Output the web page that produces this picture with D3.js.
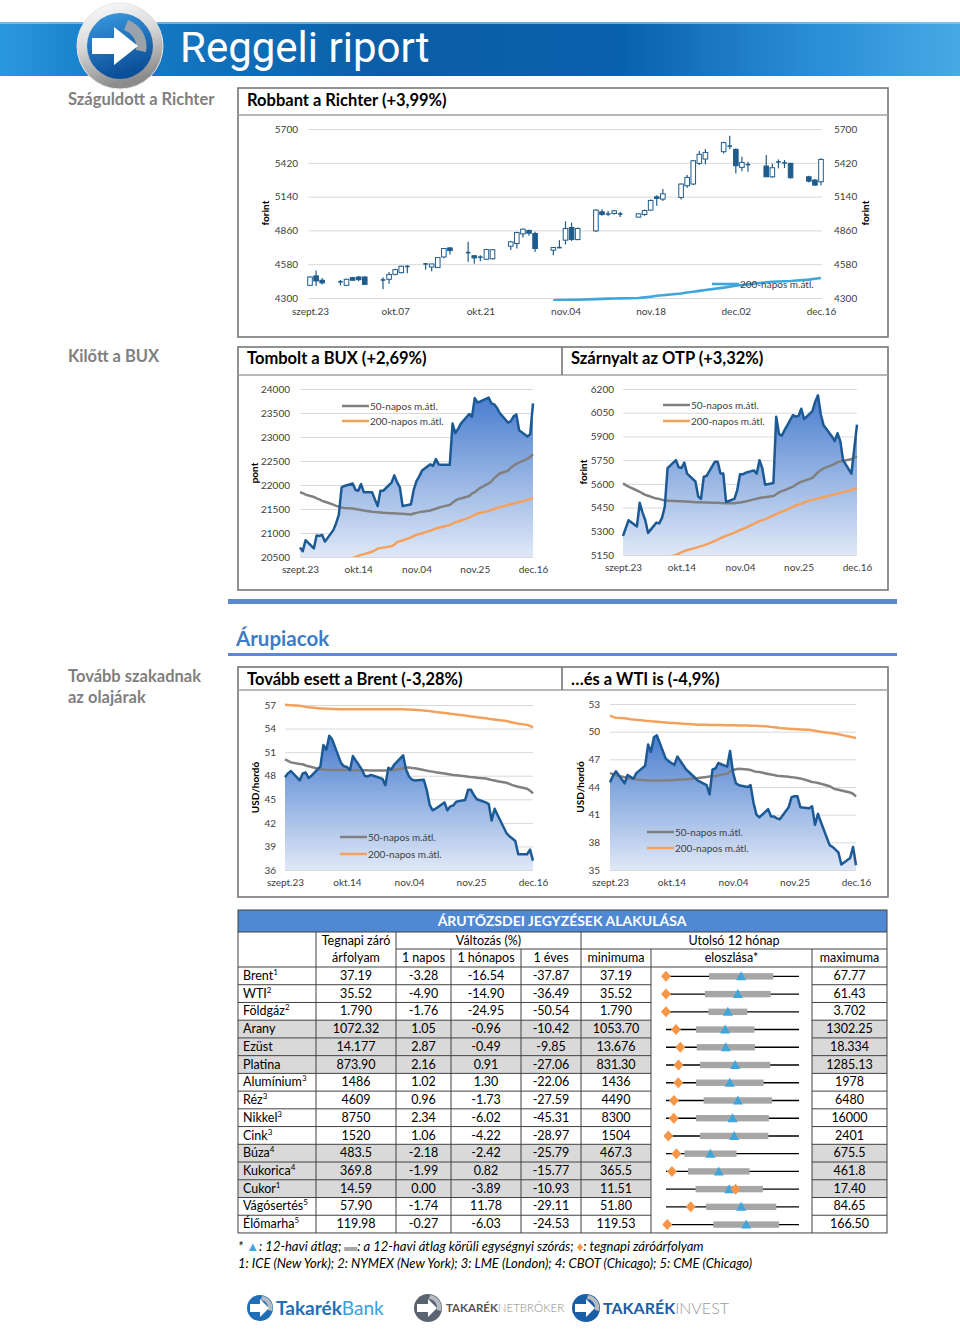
<!DOCTYPE html>
<html><head><meta charset="utf-8">
<script src="https://cdn.jsdelivr.net/npm/d3@7"></script>
<style>
body{margin:0;background:#fff;}
svg text{font-family:Lato,'Open Sans',sans-serif;}
</style></head><body>
<svg id="c" width="960" height="1329"></svg>
<script>
// ---------------- DATA ----------------
const tradingDays = ["2015-09-23","2015-09-24","2015-09-25","2015-09-28","2015-09-29","2015-09-30",
"2015-10-01","2015-10-02","2015-10-05","2015-10-06","2015-10-07","2015-10-08","2015-10-09","2015-10-12","2015-10-13","2015-10-14","2015-10-15","2015-10-16","2015-10-19","2015-10-20","2015-10-21","2015-10-22","2015-10-23","2015-10-26","2015-10-27","2015-10-28","2015-10-29","2015-10-30",
"2015-11-02","2015-11-03","2015-11-04","2015-11-05","2015-11-06","2015-11-09","2015-11-10","2015-11-11","2015-11-12","2015-11-13","2015-11-16","2015-11-17","2015-11-18","2015-11-19","2015-11-20","2015-11-23","2015-11-24","2015-11-25","2015-11-26","2015-11-27","2015-11-30",
"2015-12-01","2015-12-02","2015-12-03","2015-12-04","2015-12-07","2015-12-08","2015-12-09","2015-12-10","2015-12-11","2015-12-14","2015-12-15","2015-12-16"];

// Richter OHLC
const richterOpen  = [4405,4483,4447,4433,4405,4469,4474,4474,4447,4455,4496,4510,4560,4585,4557,4552,4640,4715,4680,4650,4636,4621,4625,4729,4751,4831,4859,4834,4696,4715,4779,4884,4784,4856,5014,4995,5000,4997,4970,4992,5028,5138,5119,5133,5230,5244,5415,5451,5512,5557,5531,5382,5404,5393,5304,5426,5418,5415,5304,5277,5263];
const richterHigh  = [4480,4527,4466,4449,4460,4475,4483,4480,4472,4516,4543,4568,4571,4588,4582,4640,4715,4723,4765,4655,4655,4707,4706,4773,4848,4875,4867,4848,4723,4779,4936,4925,4884,5036,5036,5022,5028,5014,5000,5033,5117,5152,5202,5249,5318,5443,5517,5534,5595,5645,5540,5470,5429,5484,5415,5448,5443,5421,5313,5285,5457];
const richterLow   = [4400,4400,4411,4405,4402,4444,4438,4410,4372,4419,4488,4505,4505,4535,4521,4549,4630,4660,4600,4583,4605,4618,4620,4698,4710,4801,4815,4682,4654,4713,4743,4773,4779,4847,4981,4978,4992,4972,4967,4981,5022,5064,5103,5116,5213,5235,5401,5407,5498,5534,5332,5351,5346,5304,5296,5374,5376,5290,5257,5230,5235];
const richterClose = [4474,4441,4425,4436,4455,4447,4452,4413,4452,4494,4535,4563,4563,4580,4582,4635,4710,4693,4672,4632,4641,4701,4700,4765,4842,4870,4837,4710,4718,4720,4876,4784,4876,5028,4992,4998,5022,4995,4997,5025,5108,5125,5163,5244,5299,5437,5490,5506,5587,5560,5396,5423,5407,5304,5379,5429,5421,5296,5268,5235,5448];
const richterMA200 = [null,null,null,null,null,null,null,null,null,null,null,null,null,null,null,null,null,null,null,null,null,null,null,null,null,null,null,null,
4280,4282,4283,4285,4286,4291,4293,4295,4296,4297,4300,4305,4311,4318,4323,4337,4345,4352,4359,4366,4386,4394,4401,4407,4413,4430,4434,4437,4439,4441,4452,4459,4466];
const richterYTicks = [4300,4580,4860,5140,5420,5700];
const richterXTicks = ["2015-09-23","2015-10-07","2015-10-21","2015-11-04","2015-11-18","2015-12-02","2015-12-16"];
const richterXLabels = ["szept.23","okt.07","okt.21","nov.04","nov.18","dec.02","dec.16"];

// BUX
const buxClose = [20700,20620,20850,20680,20950,20940,20960,20820,21060,21200,21380,21950,21980,22030,21900,21880,22020,21850,21850,21700,21560,21880,21880,22050,22200,22060,21950,21560,21600,21900,22080,22180,22300,22430,22400,22540,22430,22420,22420,23280,23080,23170,23280,23480,23420,23810,23720,23740,23820,23700,23680,23610,23500,23300,23330,23430,23470,23140,23010,23060,23700];
const buxMA50 = [21850,21830,21800,21750,21720,21700,21670,21650,21590,21565,21550,21530,21520,21510,21500,21490,21480,21470,21445,21440,21430,21425,21420,21412,21410,21406,21403,21400,21385,21405,21420,21435,21445,21470,21490,21505,21525,21545,21585,21630,21675,21705,21720,21770,21820,21850,21895,21940,22035,22070,22140,22195,22240,22300,22360,22400,22440,22470,22545,22590,22640];
const buxMA200 = [null,null,null,null,null,null,null,null,null,null,null,null,20440,20480,20500,20525,20545,20560,20610,20640,20675,20685,20695,20725,20755,20810,20830,20845,20910,20940,20965,20980,20995,21050,21070,21095,21110,21125,21170,21195,21220,21240,21260,21320,21345,21380,21405,21415,21460,21480,21500,21520,21535,21585,21600,21615,21630,21645,21690,21710,21730];
const buxYTicks = [20500,21000,21500,22000,22500,23000,23500,24000];

// OTP
const otpClose = [5270,5320,5370,5330,5480,5420,5370,5290,5355,5350,5385,5455,5700,5750,5705,5700,5735,5665,5615,5520,5505,5645,5650,5740,5740,5665,5665,5485,5505,5560,5660,5660,5670,5685,5665,5750,5700,5595,5605,6025,5915,5905,5940,6035,6025,6030,6075,6010,6060,6120,6160,6040,5970,5900,5870,5920,5870,5750,5665,5820,5975];
const otpMA50 = [5603,5592,5582,5558,5550,5540,5530,5525,5507,5505,5499,5494,5493,5491,5490,5490,5489,5488,5484,5483,5483,5482,5482,5480,5480,5479,5478,5477,5477,5480,5482,5485,5489,5502,5506,5510,5514,5516,5523,5534,5546,5554,5560,5582,5594,5605,5614,5619,5638,5657,5673,5686,5698,5719,5727,5737,5742,5746,5756,5766,5776];
const otpMA200 = [null,null,null,null,null,null,null,null,null,null,null,null,5136,5150,5158,5166,5175,5181,5195,5200,5206,5211,5217,5239,5247,5257,5264,5271,5292,5300,5308,5315,5322,5347,5356,5364,5370,5375,5401,5409,5417,5424,5431,5454,5463,5469,5475,5482,5499,5503,5508,5512,5516,5529,5534,5540,5543,5548,5563,5567,5571];
const otpYTicks = [5150,5300,5450,5600,5750,5900,6050,6200];

// Brent
const brentClose = [47.8,48.3,48.6,47.4,48.3,48.4,47.7,48.0,49.2,51.9,51.3,53.1,52.6,49.6,49.2,49.1,48.7,50.5,48.8,48.0,47.9,48.1,48.0,47.6,46.8,49.0,48.8,49.4,50.6,48.8,47.9,47.5,47.4,47.5,46.2,44.3,43.6,43.8,44.6,43.6,44.1,44.2,44.7,44.9,46.2,46.2,45.5,45.0,44.6,44.4,42.3,43.8,43.0,40.7,40.3,40.0,39.7,38.0,38.0,38.6,37.19];
const brentMA50 = [50.08,49.9,49.7,49.5,49.45,49.3,49.2,49.1,48.8,48.78,48.75,48.73,48.72,48.72,48.72,48.72,48.72,48.71,48.71,48.7,48.68,48.67,48.66,48.65,48.66,48.68,48.7,48.74,48.95,49.05,49.03,48.99,48.96,48.72,48.65,48.58,48.52,48.45,48.28,48.22,48.16,48.1,48.06,47.93,47.88,47.82,47.79,47.75,47.65,47.55,47.45,47.38,47.3,47.1,46.95,46.8,46.7,46.6,46.35,46.1,45.76];
const brentMA200 = [57.04,57.0,56.97,56.9,56.83,56.76,56.71,56.68,56.57,56.55,56.53,56.51,56.5,56.47,56.46,56.45,56.45,56.45,56.45,56.45,56.45,56.45,56.45,56.45,56.45,56.45,56.45,56.45,56.45,56.44,56.42,56.4,56.38,56.31,56.26,56.22,56.18,56.12,55.98,55.94,55.89,55.85,55.8,55.66,55.61,55.55,55.5,55.44,55.3,55.25,55.2,55.15,55.1,54.95,54.87,54.78,54.7,54.6,54.47,54.35,54.16];
const brentYTicks = [36,39,42,45,48,51,54,57];

// WTI
const wtiClose = [44.5,45.2,45.7,44.4,45.3,45.1,44.9,45.5,46.3,48.6,47.8,49.4,49.6,47.1,46.8,46.6,46.4,47.3,45.9,45.6,45.3,45.0,44.7,44.2,43.2,45.9,46.0,46.6,46.2,47.9,45.6,44.4,44.2,44.0,44.2,42.3,41.0,40.7,41.6,40.8,40.8,40.6,40.5,41.8,42.9,43.0,43.0,41.8,41.7,41.9,39.9,41.1,40.2,37.7,37.5,37.2,36.9,35.6,36.3,37.5,35.52];
const wtiMA50 = [45.5,45.4,45.28,45.05,44.97,44.92,44.88,44.82,44.74,44.72,44.71,44.71,44.71,44.71,44.72,44.74,44.76,44.78,44.85,44.88,44.9,44.94,44.97,45.09,45.13,45.17,45.2,45.28,45.45,45.7,45.85,45.92,45.97,45.9,45.85,45.72,45.65,45.62,45.42,45.35,45.3,45.23,45.18,45.1,45.07,45.02,44.98,44.93,44.65,44.55,44.5,44.43,44.35,44.08,43.9,43.75,43.7,43.62,43.4,43.25,42.97];
const wtiMA200 = [51.73,51.6,51.52,51.45,51.4,51.35,51.31,51.28,51.19,51.17,51.13,51.1,51.07,50.99,50.97,50.94,50.93,50.91,50.84,50.82,50.8,50.78,50.76,50.74,50.73,50.72,50.72,50.71,50.7,50.7,50.69,50.69,50.68,50.66,50.65,50.65,50.63,50.62,50.57,50.52,50.48,50.44,50.4,50.32,50.3,50.28,50.26,50.24,50.2,50.15,50.1,50.04,49.98,49.86,49.82,49.78,49.72,49.65,49.45,49.38,49.31];
const wtiYTicks = [35,38,41,44,47,50,53];

const lineXTicks = ["2015-09-23","2015-10-14","2015-11-04","2015-11-25","2015-12-16"];
const lineXLabels = ["szept.23","okt.14","nov.04","nov.25","dec.16"];

// Commodity table
const commodities = ["Brent","WTI","Földgáz","Arany","Ezüst","Platina","Alumínium","Réz","Nikkel","Cink","Búza","Kukorica","Cukor","Vágósertés","Élőmarha"];
const exchangeNote = ["1","2","2","","","","3","3","3","3","4","4","1","5","5"];
const lastClose = ["37.19","35.52","1.790","1072.32","14.177","873.90","1486","4609","8750","1520","483.5","369.8","14.59","57.90","119.98"];
const chg1d = [-3.28,-4.90,-1.76,1.05,2.87,2.16,1.02,0.96,2.34,1.06,-2.18,-1.99,0.00,-1.74,-0.27];
const chg1m = [-16.54,-14.90,-24.95,-0.96,-0.49,0.91,1.30,-1.73,-6.02,-4.22,-2.42,0.82,-3.89,11.78,-6.03];
const chg1y = [-37.87,-36.49,-50.54,-10.42,-9.85,-27.06,-22.06,-27.59,-45.31,-28.97,-25.79,-15.77,-10.93,-29.11,-24.53];
const min12 = ["37.19","35.52","1.790","1053.70","13.676","831.30","1436","4490","8300","1504","467.3","365.5","11.51","51.80","119.53"];
const max12 = ["67.77","61.43","3.702","1302.25","18.334","1285.13","1978","6480","16000","2401","675.5","461.8","17.40","84.65","166.50"];
const mean12 = [54.47,49.51,2.679,1164.3,15.77,1067.3,1696,5565,12150,1964,536.9,403.7,14.31,70.37,147.85];
const std12  = [7.38,6.41,0.279,54.6,1.018,119.7,137.5,512,2109,230,40.8,22.3,1.49,8.67,11.62];

// ---------------- DRAWING ----------------
const svg = d3.select('#c');
const parseD = d3.timeParse('%Y-%m-%d');
const dts = tradingDays.map(parseD);
const defs = svg.append('defs');
const plainNum = d => String(d);

function grad(id, stops, x2, y2){
  const g = defs.append('linearGradient').attr('id',id).attr('x1',0).attr('y1',0).attr('x2',x2).attr('y2',y2);
  stops.forEach(s=>g.append('stop').attr('offset',s[0]).attr('stop-color',s[1]));
}
grad('hdr',[[0,'#2a98de'],[0.1,'#167fca'],[0.4,'#0a5da6'],[0.65,'#0b62ac'],[0.85,'#2a8ed6'],[1,'#48a9e6']],1,0);
grad('area',[[0,'#4a7ecf'],[1,'#dfe8f7']],0,1);
grad('silver',[[0,'#ffffff'],[0.5,'#d8d8d8'],[1,'#8c8c8c']],0.3,1);
grad('logoBlue',[[0,'#3a9be2'],[1,'#0b4f98']],0.3,1);

function txt(x,y,s,o={}){
  const t = svg.append('text').attr('x',x).attr('y',y).text(s)
    .attr('font-size',o.size||12).attr('fill',o.fill||'#000');
  if(o.bold) t.attr('font-weight','bold');
  if(o.anchor) t.attr('text-anchor',o.anchor);
  if(o.italic) t.attr('font-style','italic');
  if(o.rot) t.attr('transform',`rotate(${o.rot},${x},${y})`);
  return t;
}

// Header band
svg.append('rect').attr('x',0).attr('y',22).attr('width',960).attr('height',54).attr('fill','url(#hdr)');
svg.append('rect').attr('x',0).attr('y',22).attr('width',960).attr('height',2).attr('fill','#8ccdf2').attr('opacity',0.7);
// logo
svg.append('circle').attr('cx',120).attr('cy',46).attr('r',43).attr('fill','url(#silver)').attr('stroke','#e6e6e6');
svg.append('circle').attr('cx',120).attr('cy',46).attr('r',33).attr('fill','url(#logoBlue)');
svg.append('path').attr('d','M128,20 A28,28 0 0 1 146,52 L136,50 A18,18 0 0 0 124,30 Z').attr('fill','#9aa3ab');
svg.append('path').attr('d','M92,38 L114,38 L114,27 L138,46 L114,65 L114,54 L92,54 Z').attr('fill','#ffffff');
txt(180,62,'Reggeli riport',{size:42,fill:'#ffffff'}).style('font-family','Roboto, sans-serif').attr('font-weight',400);

// Section labels
const GRAY='#7f7f7f';
txt(68,105,'Száguldott a Richter',{size:16.5,bold:true,fill:GRAY});
txt(68,362,'Kilőtt a BUX',{size:16.5,bold:true,fill:GRAY});
txt(68,682,'Tovább szakadnak',{size:16.5,bold:true,fill:GRAY});
txt(68,703,'az olajárak',{size:16.5,bold:true,fill:GRAY});

// Boxes
function box(x0,y0,x1,y1,ty,divX){
  const g = svg.append('g').attr('fill','none').attr('stroke','#767676').attr('stroke-width',1.6);
  g.append('rect').attr('x',x0).attr('y',y0).attr('width',x1-x0).attr('height',y1-y0);
  g.append('line').attr('x1',x0).attr('x2',x1).attr('y1',ty).attr('y2',ty).attr('stroke','#a0a0a0');
  if(divX) g.append('line').attr('x1',divX).attr('x2',divX).attr('y1',y0).attr('y2',ty);
}
box(238,88,888,337,115);
txt(247,106,'Robbant a Richter (+3,99%)',{size:16.5,bold:true});
box(238,347,888,590,375,562);
txt(247,364,'Tombolt a BUX (+2,69%)',{size:16.5,bold:true});
txt(571,364,'Szárnyalt az OTP (+3,32%)',{size:16.5,bold:true});
box(238,667,888,897,690,562);
txt(247,685,'Tovább esett a Brent (-3,28%)',{size:16.5,bold:true});
txt(571,685,'…és a WTI is (-4,9%)',{size:16.5,bold:true});

// Árupiacok header
svg.append('rect').attr('x',228).attr('y',599).attr('width',669).attr('height',5).attr('fill','#5b8ad0');
svg.append('rect').attr('x',228).attr('y',653).attr('width',669).attr('height',3).attr('fill','#5b8ad0');
txt(236,646,'Árupiacok',{size:20.5,bold:true,fill:'#3c7cc8'});

function styleAxis(sel){
  sel.select('.domain').remove();
  sel.selectAll('.tick line').attr('stroke','#d9d9d9');
  sel.selectAll('.tick text').attr('font-size',10).attr('fill','#404040').style('font-family','Lato, sans-serif');
}

// ---------- Richter candlestick ----------
(function(){
  const x = d3.scaleTime().domain([dts[0],dts[dts.length-1]]).range([310,821]);
  const y = d3.scaleLinear().domain([4300,5700]).range([298,129]);
  const g = svg.append('g');
  g.append('g').attr('transform','translate(308,0)')
    .call(d3.axisLeft(y).tickValues(richterYTicks).tickFormat(plainNum).tickSize(-514).tickPadding(10)).call(styleAxis);
  g.append('g').attr('transform','translate(822,0)')
    .call(d3.axisRight(y).tickValues(richterYTicks).tickFormat(plainNum).tickSize(0).tickPadding(12)).call(styleAxis);
  g.append('g').attr('transform','translate(0,308)')
    .call(d3.axisBottom(x).tickValues(richterXTicks.map(parseD)).tickFormat((d,i)=>richterXLabels[i]).tickSize(0).tickPadding(0)).call(styleAxis);
  txt(269,213,'forint',{size:10,bold:true,anchor:'middle',rot:-90});
  txt(869,213,'forint',{size:10,bold:true,anchor:'middle',rot:-90});
  const C='#1f5c8c', bw=4.6;
  const cd = g.append('g');
  dts.forEach((d,i)=>{
    const cx = x(d);
    cd.append('line').attr('x1',cx).attr('x2',cx).attr('y1',y(richterHigh[i])).attr('y2',y(richterLow[i])).attr('stroke',C).attr('stroke-width',1.2);
    const o=richterOpen[i], c=richterClose[i];
    const top=y(Math.max(o,c)), bot=y(Math.min(o,c));
    if(bot-top<1.2){
      cd.append('line').attr('x1',cx-bw/2).attr('x2',cx+bw/2).attr('y1',(top+bot)/2).attr('y2',(top+bot)/2).attr('stroke',C).attr('stroke-width',1.6);
    } else {
      cd.append('rect').attr('x',cx-bw/2).attr('y',top).attr('width',bw).attr('height',bot-top)
        .attr('fill',c>o?'#ffffff':C).attr('stroke',C).attr('stroke-width',1);
    }
  });
  defs.append('clipPath').attr('id','clipR').append('rect').attr('x',300).attr('y',120).attr('width',530).attr('height',181);
  g.append('path').datum(richterMA200.map((v,i)=>[dts[i],v]))
    .attr('d',d3.line().defined(d=>d[1]!=null).x(d=>x(d[0])).y(d=>y(d[1])))
    .attr('fill','none').attr('stroke','#3fa6dc').attr('stroke-width',2.6).attr('clip-path','url(#clipR)');
  g.append('line').attr('x1',712).attr('x2',739).attr('y1',284).attr('y2',284).attr('stroke','#3fa6dc').attr('stroke-width',2.6);
  txt(740,288,'200-napos m.átl.',{size:10,fill:'#404040'});
})();

// ---------- Line charts ----------
let clipN=0;
function lineChart(c){
  const x = d3.scaleTime().domain([dts[0],dts[dts.length-1]]).range([c.x0,c.x1]);
  const y = d3.scaleLinear().domain([c.yTicks[0],c.yTicks[c.yTicks.length-1]]).range([c.yb,c.yt]);
  const g = svg.append('g');
  g.append('g').attr('transform',`translate(${c.x0},0)`)
    .call(d3.axisLeft(y).tickValues(c.yTicks).tickFormat(plainNum).tickSize(-(c.x1-c.x0)).tickPadding(c.pad)).call(styleAxis);
  g.append('g').attr('transform',`translate(0,${c.yb+9})`)
    .call(d3.axisBottom(x).tickValues(lineXTicks.map(parseD)).tickFormat((d,i)=>lineXLabels[i]).tickSize(0).tickPadding(0)).call(styleAxis);
  txt(c.titleX,(c.yt+c.yb)/2,c.title,{size:10,bold:true,anchor:'middle',rot:-90});
  const id='clip'+(clipN++);
  defs.append('clipPath').attr('id',id).append('rect').attr('x',c.x0-2).attr('y',c.yt-8).attr('width',c.x1-c.x0+4).attr('height',c.yb-c.yt+8);
  const pts = c.close.map((v,i)=>[dts[i],v]);
  g.append('path').datum(pts).attr('d',d3.area().x(d=>x(d[0])).y0(c.yb).y1(d=>y(d[1])))
    .attr('fill','url(#area)').attr('clip-path',`url(#${id})`);
  const ln = d3.line().defined(d=>d[1]!=null).x(d=>x(d[0])).y(d=>y(d[1]));
  g.append('path').datum(c.ma50.map((v,i)=>[dts[i],v])).attr('d',ln).attr('fill','none').attr('stroke','#808080').attr('stroke-width',2.5).attr('clip-path',`url(#${id})`);
  g.append('path').datum(c.ma200.map((v,i)=>[dts[i],v])).attr('d',ln).attr('fill','none').attr('stroke','#f4a15d').attr('stroke-width',2.5).attr('clip-path',`url(#${id})`);
  g.append('path').datum(pts).attr('d',ln).attr('fill','none').attr('stroke','#1c5a96').attr('stroke-width',2.5).attr('stroke-linejoin','round');
  // legend
  g.append('line').attr('x1',c.lx).attr('x2',c.lx+27).attr('y1',c.ly).attr('y2',c.ly).attr('stroke','#808080').attr('stroke-width',2.5);
  txt(c.lx+28,c.ly+3.5,'50-napos m.átl.',{size:10,fill:'#404040'});
  g.append('line').attr('x1',c.lx).attr('x2',c.lx+27).attr('y1',c.ly+c.lg).attr('y2',c.ly+c.lg).attr('stroke','#f4a15d').attr('stroke-width',2.5);
  txt(c.lx+28,c.ly+c.lg+3.5,'200-napos m.átl.',{size:10,fill:'#404040'});
}
lineChart({x0:300,x1:533,yt:389,yb:557,pad:10,yTicks:buxYTicks,close:buxClose,ma50:buxMA50,ma200:buxMA200,title:'pont',titleX:258,lx:342,ly:406,lg:15});
lineChart({x0:623,x1:857,yt:389,yb:555,pad:9,yTicks:otpYTicks,close:otpClose,ma50:otpMA50,ma200:otpMA200,title:'forint',titleX:587,lx:663,ly:405,lg:16});
lineChart({x0:285,x1:533,yt:705,yb:870,pad:9,yTicks:brentYTicks,close:brentClose,ma50:brentMA50,ma200:brentMA200,title:'USD/hordó',titleX:259,lx:340,ly:837,lg:17});
lineChart({x0:610,x1:856,yt:704,yb:870,pad:10,yTicks:wtiYTicks,close:wtiClose,ma50:wtiMA50,ma200:wtiMA200,title:'USD/hordó',titleX:584,lx:647,ly:832,lg:16});

// ---------- Table ----------
(function(){
  const cols=[238,316,396,451,521,581,651,812,887];
  const r0=967, rh=17.73, n=commodities.length, rEnd=r0+rh*n;
  const shaded=[3,4,5,10,11,12];
  const fs=12.5;
  svg.append('rect').attr('x',238).attr('y',910).attr('width',649).attr('height',22).attr('fill','#4f88d3');
  txt(562,926,'ÁRUTŐZSDEI JEGYZÉSEK ALAKULÁSA',{size:14,bold:true,fill:'#ffffff',anchor:'middle'});
  shaded.forEach(i=>{
    [0,1,2,3,4,5,7].forEach(c=>{
      svg.append('rect').attr('x',cols[c]).attr('y',r0+i*rh).attr('width',cols[c+1]-cols[c]).attr('height',rh).attr('fill','#d9d9d9');
    });
  });
  const L = svg.append('g').attr('stroke','#404040').attr('stroke-width',1);
  const hl=(x1,x2,y)=>L.append('line').attr('x1',x1).attr('x2',x2).attr('y1',y).attr('y2',y);
  const vl=(x,y1,y2)=>L.append('line').attr('x1',x).attr('x2',x).attr('y1',y1).attr('y2',y2);
  L.append('rect').attr('x',238).attr('y',910).attr('width',649).attr('height',rEnd-910).attr('fill','none');
  hl(238,887,932); hl(396,887,949); hl(238,887,r0);
  for(let i=1;i<n;i++){ const yy=r0+i*rh; hl(238,651,yy); hl(812,887,yy); }
  vl(316,932,rEnd); vl(396,932,rEnd); vl(451,949,rEnd); vl(521,949,rEnd); vl(581,932,rEnd); vl(651,949,rEnd); vl(812,949,rEnd);
  const mid=c=>(cols[c]+cols[c+1])/2;
  txt(mid(1),945,'Tegnapi záró',{size:fs,anchor:'middle'});
  txt(mid(1),962,'árfolyam',{size:fs,anchor:'middle'});
  txt((396+581)/2,945,'Változás (%)',{size:fs,anchor:'middle'});
  txt((581+887)/2,945,'Utolsó 12 hónap',{size:fs,anchor:'middle'});
  ['1 napos','1 hónapos','1 éves','minimuma','eloszlása*','maximuma'].forEach((s,k)=>txt(mid(k+2),962,s,{size:fs,anchor:'middle'}));
  const f2=v=>v.toFixed(2);
  commodities.forEach((nm,i)=>{
    const by=r0+i*rh+13;
    const t=txt(243,by,nm,{size:fs});
    if(exchangeNote[i]) t.append('tspan').attr('dy',-5).attr('font-size',8).text(exchangeNote[i]);
    txt(mid(1),by,lastClose[i],{size:fs,anchor:'middle'});
    txt(mid(2),by,f2(chg1d[i]),{size:fs,anchor:'middle'});
    txt(mid(3),by,f2(chg1m[i]),{size:fs,anchor:'middle'});
    txt(mid(4),by,f2(chg1y[i]),{size:fs,anchor:'middle'});
    txt(mid(5),by,min12[i],{size:fs,anchor:'middle'});
    txt(mid(7),by,max12[i],{size:fs,anchor:'middle'});
    // distribution glyph
    const s=d3.scaleLinear().domain([+min12[i],+max12[i]]).range([666,799]);
    const cy=r0+i*rh+rh/2+0.5;
    svg.append('line').attr('x1',666).attr('x2',799).attr('y1',cy).attr('y2',cy).attr('stroke','#000').attr('stroke-width',1.4);
    svg.append('rect').attr('x',s(mean12[i]-std12[i])).attr('y',cy-3.2).attr('width',s(mean12[i]+std12[i])-s(mean12[i]-std12[i])).attr('height',6.4).attr('fill','#a6a6a6');
    const m=s(mean12[i]);
    svg.append('path').attr('d',`M${m-5},${cy+4} L${m+5},${cy+4} L${m},${cy-5} Z`).attr('fill','#3fa6dc');
    const q=s(+lastClose[i]);
    svg.append('path').attr('d',`M${q},${cy-5.5} L${q+5},${cy} L${q},${cy+5.5} L${q-5},${cy} Z`).attr('fill','#f79646');
  });
})();

// Footer notes
(function(){
  const t=txt(238,1251,'* ',{size:13,italic:true});
  t.append('tspan').attr('fill','#3fa6dc').attr('font-style','normal').text('▲');
  t.append('tspan').text(': 12-havi átlag;  ');
  t.append('tspan').attr('fill','#a6a6a6').attr('font-style','normal').text('▬');
  t.append('tspan').text(': a 12-havi átlag körüli egységnyi szórás;  ');
  t.append('tspan').attr('fill','#f79646').attr('font-style','normal').text('♦');
  t.append('tspan').text(': tegnapi záróárfolyam');
  txt(238,1268,'1: ICE (New York); 2: NYMEX (New York); 3: LME (London); 4: CBOT (Chicago); 5: CME (Chicago)',{size:13,italic:true});
})();

// Footer logos
function icon(cx,cy,r,col){
  svg.append('circle').attr('cx',cx).attr('cy',cy).attr('r',r).attr('fill',col);
  svg.append('path').attr('d',`M${cx+2},${cy-r+1} A${r-1},${r-1} 0 0 1 ${cx+r-1},${cy+3} L${cx+r-5},${cy+2} A${r-5},${r-5} 0 0 0 ${cx+1},${cy-r+5} Z`).attr('fill','#b5bcc2');
  svg.append('path').attr('d',`M${cx-r+3},${cy-4} L${cx},${cy-4} L${cx},${cy-9} L${cx+9},${cy} L${cx},${cy+9} L${cx},${cy+4} L${cx-r+3},${cy+4} Z`).attr('fill','#fff');
}
icon(260,1308,13,'#1f6fb8');
const tb=txt(276,1315,'Takarék',{size:19,bold:true,fill:'#1f6fb8'});
tb.append('tspan').attr('font-weight','normal').attr('fill','#3a9ee0').text('Bank');
icon(428,1308,14,'#5a6470');
const tn=txt(446,1312,'TAKARÉK',{size:11.5,bold:true,fill:'#555'});
tn.append('tspan').attr('font-weight','300').attr('fill','#8a8a8a').text('NETBRÓKER');
icon(586,1308,14,'#1a5ea8');
const ti=txt(603,1314,'TAKARÉK',{size:16,bold:true,fill:'#1a5ea8'});
ti.append('tspan').attr('font-weight','300').attr('fill','#9a9a9a').text('INVEST');
</script>
</body></html>
